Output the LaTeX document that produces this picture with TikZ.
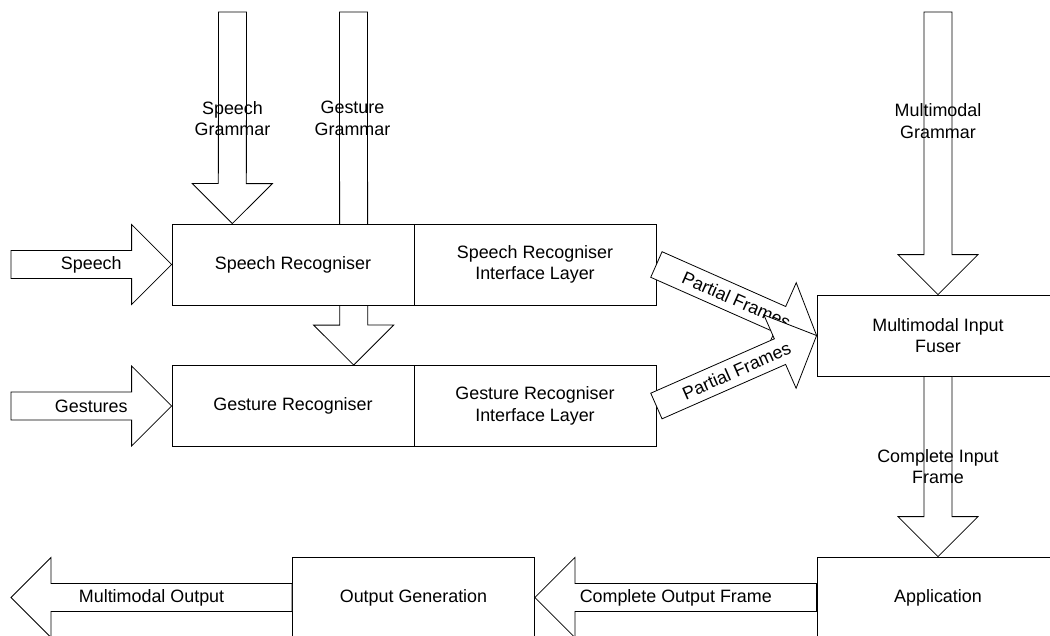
\documentclass[tikz,border=0pt]{standalone}
\usepackage{fontspec}
\setmainfont{Liberation Sans}
\usetikzlibrary{calc}
\pgfdeclarelayer{bg}
\pgfsetlayers{bg,main}
\newcommand{\diaglbl}{\fontsize{17.9}{21.5}\selectfont}
\tikzset{
  box/.style={draw=black, fill=white, line width=0.8pt, minimum width=242pt, minimum height=81pt, inner sep=0pt, align=center, font=\diaglbl},
  barrowshape/.style={draw=black, fill=white, line width=0.8pt, line join=miter},
  lbl/.style={font=\diaglbl, align=center, inner sep=0pt},
}
\newcommand{\myblockarrow}[2]{%
  \coordinate (hb) at ($(#2)!40pt!(#1)$);
  \draw[barrowshape] ($(#1)!14pt!90:(#2)$) -- ($(hb)!14pt!90:(#2)$) -- ($(hb)!40pt!90:(#2)$) -- (#2) -- ($(hb)!40pt!-90:(#2)$) -- ($(hb)!14pt!-90:(#2)$) -- ($(#1)!14pt!-90:(#2)$) -- cycle;
}
\begin{document}
\begin{tikzpicture}[x=1pt,y=-1pt]
\useasboundingbox (0,0) rectangle (1050,635);
\begin{pgfonlayer}{bg}
\fill[white] (0,0) rectangle (1050,635);
\end{pgfonlayer}
\clip (0,0) rectangle (1050,635);
% boxes
\node[box] (sr) at (293,264.5) {Speech Recogniser};
\node[box] (sil) at (535,264.5) {Speech Recogniser\\Interface Layer};
\node[box] (gr) at (293,406) {Gesture Recogniser};
\node[box] (gil) at (535,406) {Gesture Recogniser\\Interface Layer};
\node[box] (fuser) at (938,335.5) {Multimodal Input\\Fuser};
\node[box] (app) at (938,597.5) {Application};
\node[box] (outgen) at (413.5,597.5) {Output Generation};
% free ends
\coordinate (speechin) at (11,264.5);
\coordinate (gesturein) at (11,406);
\coordinate (sgtop) at (232.5,12);
\coordinate (sgtip) at ($(sr.north west)!0.25!(sr.north east)$);
\coordinate (ggtop) at (353.5,12);
\coordinate (ggtip) at ($(gr.north west)!0.75!(gr.north east)$);
\coordinate (mgtop) at (938,12);
\coordinate (mmout) at (11,597.5);
% inputs
\myblockarrow{speechin}{sr.west}
\node[lbl] at ($(speechin)!0.5!(sr.west)$) {Speech};
\myblockarrow{gesturein}{gr.west}
\node[lbl] at ($(gesturein)!0.5!(gr.west)$) {Gestures};
% grammars
\myblockarrow{sgtop}{sgtip}
\node[lbl] at (232.5,118.5) {Speech\\Grammar};
\begin{pgfonlayer}{bg}
\myblockarrow{ggtop}{ggtip}
\end{pgfonlayer}
\node[lbl] at (352.5,118.5) {Gesture\\Grammar};
\myblockarrow{mgtop}{fuser.north}
\node[lbl] at (938,121) {Multimodal\\Grammar};
% partial frames
\myblockarrow{sil.east}{fuser.west}
\path (sil.east) -- (fuser.west) node[midway, sloped, lbl] {Partial Frames};
\myblockarrow{gil.east}{fuser.west}
\path (gil.east) -- (fuser.west) node[midway, sloped, lbl] {Partial Frames};
% fuser to application
\myblockarrow{fuser.south}{app.north}
\node[lbl] at ($(fuser.south)!0.5!(app.north)$) {Complete Input\\Frame};
% outputs
\myblockarrow{app.west}{outgen.east}
\node[lbl] at ($(app.west)!0.5!(outgen.east)$) {Complete Output Frame};
\myblockarrow{outgen.west}{mmout}
\node[lbl] at ($(outgen.west)!0.5!(mmout)$) {Multimodal Output};
\end{tikzpicture}
\end{document}
